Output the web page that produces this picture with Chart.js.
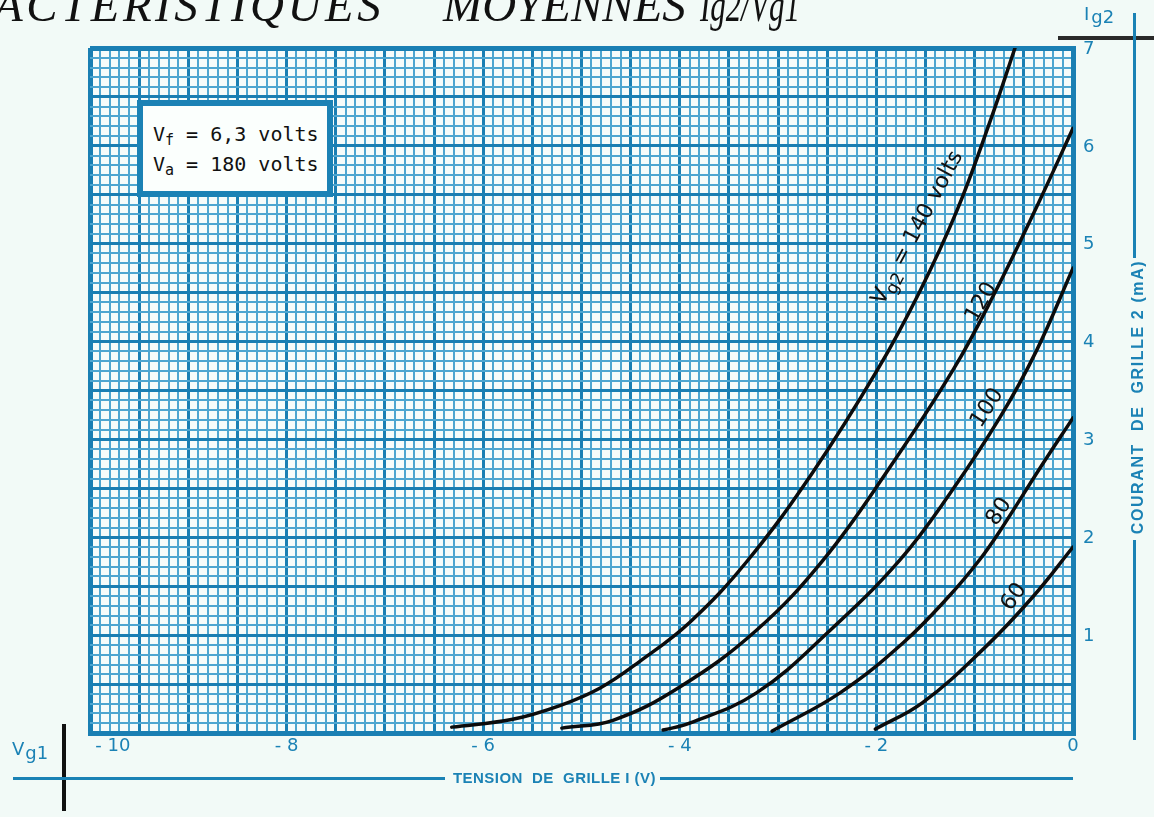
<!DOCTYPE html>
<html>
<head>
<meta charset="utf-8">
<script src="https://cdn.jsdelivr.net/npm/chart.js@4/dist/chart.umd.min.js"></script>
<style>
  html, body { margin: 0; padding: 0; background: #f2faf7; }
  #wrap { position: relative; width: 1154px; height: 817px; overflow: hidden; }
  #chartBox { position: absolute; left: 0; top: 0; width: 1154px; height: 817px; }
  .abs { position: absolute; }
  .blue { color: #1b82b5; }
  .title { top: -22px; font: italic 47px "Liberation Serif", serif; color: #111; white-space: nowrap; transform-origin: left top; }
  .cap { font: bold 15px "Liberation Sans", sans-serif; color: #1b82b5; white-space: nowrap; }
  .rule { background: #1b82b5; }
  .info { left: 137px; top: 100px; width: 184px; height: 85px; border: 6px solid #1b82b5; background: #fbfffd;
          font: 20px "DejaVu Sans Mono", monospace; color: #111; }
  .info div { position: absolute; left: 10px; white-space: pre; }
  sub { font-size: 75%; vertical-align: -4px; line-height: 0; }
</style>
</head>
<body>
<div id="wrap">
  <div id="chartBox"><canvas id="c"></canvas></div>

  <div class="abs title" style="left:-6px; letter-spacing:3.5px;">ACTERISTIQUES</div>
  <div class="abs title" style="left:443px;">MOYENNES</div>
  <div class="abs title" style="left:700px; transform: scaleX(0.66);">Ig2/Vg1</div>

  <div class="abs info">
    <div style="top:16px">V<sub>f</sub> = 6,3 volts</div>
    <div style="top:46px">V<sub>a</sub> = 180 volts</div>
  </div>

  <!-- right side: Ig2 / courant de grille 2 -->
  <div class="abs blue" style="left:1084px; top:3px; font:18px 'DejaVu Sans', sans-serif;">I<span style="position:relative; top:3px; margin-left:2px">g2</span></div>
  <div class="abs" style="left:1058px; top:36px; width:96px; height:4px; background:#2a2a2a;"></div>
  <div class="abs rule" style="left:1133px; top:13px; width:3px; height:245px;"></div>
  <div class="abs cap" style="left:1138px; top:397px; transform: translate(-50%,-50%) rotate(-90deg); letter-spacing:1.6px; font-size:16px;">COURANT&nbsp; DE&nbsp; GRILLE 2 (mA)</div>
  <div class="abs rule" style="left:1133px; top:540px; width:3px; height:200px;"></div>

  <!-- bottom: Vg1 / tension de grille 1 -->
  <div class="abs blue" style="left:12px; top:738px; font:18px 'DejaVu Sans', sans-serif;">V<span style="position:relative; top:4px; margin-left:1px">g1</span></div>
  <div class="abs" style="left:62px; top:724px; width:4px; height:87px; background:#111;"></div>
  <div class="abs rule" style="left:13px; top:777px; width:432px; height:3px;"></div>
  <div class="abs cap" style="left:453px; top:769px; letter-spacing:0.45px;">TENSION&nbsp; DE&nbsp; GRILLE I (V)</div>
  <div class="abs rule" style="left:660px; top:777px; width:413px; height:3px;"></div>
</div>

<script>
// grille 1 voltage (V) and screen-grid current (mA)
const vg1_140 = [-6.32, -5.70, -5.22, -4.81, -4.41, -3.90, -3.32, -2.65, -1.99, -1.56, -1.18, -0.84, -0.59];
const ig2_140 = [0.06, 0.14, 0.28, 0.46, 0.73, 1.13, 1.75, 2.66, 3.71, 4.51, 5.34, 6.26, 7.00];

const vg1_120 = [-5.20, -4.68, -4.00, -3.22, -2.54, -1.88, -1.22, -0.81, -0.34, 0.00];
const ig2_120 = [0.05, 0.13, 0.47, 1.05, 1.77, 2.69, 3.71, 4.47, 5.44, 6.18];

const vg1_100 = [-4.17, -3.90, -3.22, -2.47, -1.76, -1.25, -0.74, -0.37, 0.00];
const ig2_100 = [0.03, 0.10, 0.41, 1.05, 1.77, 2.45, 3.23, 3.91, 4.75];

const vg1_80 = [-3.06, -2.37, -1.73, -1.25, -0.95, -0.74, -0.34, 0.00];
const ig2_80 = [0.02, 0.41, 0.92, 1.41, 1.77, 2.07, 2.70, 3.22];

const vg1_60 = [-2.01, -1.53, -0.90, -0.41, 0.00];
const ig2_60 = [0.04, 0.31, 0.87, 1.39, 1.90];

const xTickLabels = [-10, -8, -6, -4, -2, 0];
const yTickLabels = [1, 2, 3, 4, 5, 6, 7];

// curve captions, anchored in data units
const curveLabels = [
  { main: 'V', sub: 'g2', rest: ' = 140 volts', x: -1.58, y: 5.16, angle: -62 },
  { main: '120', x: -0.93, y: 4.40, angle: -60 },
  { main: '100', x: -0.87, y: 3.32, angle: -57 },
  { main: '80', x: -0.75, y: 2.26, angle: -56 },
  { main: '60', x: -0.60, y: 1.39, angle: -55 },
];

const GRID_MAJOR = '#1a7fb3';
const GRID_MINOR = '#4ea6d0';

const pts = (xs, ys) => xs.map((x, i) => ({ x, y: ys[i] }));
const curve = (xs, ys) => ({
  data: pts(xs, ys), borderColor: '#0c0c0c', borderWidth: 3.5, pointRadius: 0,
  fill: false, tension: 0.4, borderCapStyle: 'round',
});

// one tick every 0.1 unit, built as clean decimals
const tenthTicks = (lo, hi) => {
  const out = [];
  for (let t = lo * 10; t <= hi * 10; t++) out.push({ value: t / 10 });
  return out;
};

const bgPlugin = {
  id: 'bg',
  beforeDraw(chart) {
    const { ctx, chartArea: a } = chart;
    ctx.save();
    ctx.fillStyle = '#f2faf7';
    ctx.fillRect(0, 0, chart.width, chart.height);
    ctx.fillStyle = '#f6fcfa';
    ctx.fillRect(a.left, a.top, a.right - a.left, a.bottom - a.top);
    ctx.restore();
  }
};

const labelPlugin = {
  id: 'curveLabels',
  afterDatasetsDraw(chart) {
    const { ctx, scales: { x, y } } = chart;
    ctx.save();
    ctx.fillStyle = '#111';
    ctx.textBaseline = 'middle';
    const big = '22px "DejaVu Sans", sans-serif';
    const small = '17px "DejaVu Sans", sans-serif';
    curveLabels.forEach(l => {
      ctx.save();
      ctx.translate(x.getPixelForValue(l.x), y.getPixelForValue(l.y));
      ctx.rotate(l.angle * Math.PI / 180);
      ctx.font = big;
      const w = ctx.measureText(l.main).width;
      let ws = 0, wr = 0;
      if (l.sub) { ctx.font = small; ws = ctx.measureText(l.sub).width; ctx.font = big; wr = ctx.measureText(l.rest).width; }
      const cx = -(w + ws + wr) / 2;
      ctx.font = big;
      ctx.fillText(l.main, cx, 0);
      if (l.sub) {
        ctx.font = small; ctx.fillText(l.sub, cx + w, 7);
        ctx.font = big; ctx.fillText(l.rest, cx + w + ws, 0);
      }
      ctx.restore();
    });
    ctx.restore();
  }
};

const tenth = v => Math.round(v * 10);
const gridColor = c => (c.tick && tenth(c.tick.value) % 5 === 0) ? GRID_MAJOR : GRID_MINOR;
const gridWidth = edge => c => {
  if (!c.tick) return 2;
  const t = tenth(c.tick.value);
  return t === edge ? 5 : (t % 5 === 0 ? 3 : 2);
};
// the -10 label sits inside the frame on the original, hence the leading spaces
const xLabel = v => {
  if (!xTickLabels.includes(v)) return '';
  if (v === 0) return '0';
  return (v === -10 ? '        ' : '') + '- ' + Math.abs(v);
};

new Chart(document.getElementById('c'), {
  type: 'line',
  data: {
    datasets: [
      curve(vg1_140, ig2_140),
      curve(vg1_120, ig2_120),
      curve(vg1_100, ig2_100),
      curve(vg1_80, ig2_80),
      curve(vg1_60, ig2_60),
    ]
  },
  options: {
    responsive: true, maintainAspectRatio: false, animation: false,
    layout: { padding: { left: 90, top: 48, right: 0, bottom: 0 } },
    plugins: { legend: { display: false }, tooltip: { enabled: false } },
    scales: {
      x: {
        type: 'linear', min: -10, max: 0, position: 'bottom',
        afterBuildTicks: s => { s.ticks = tenthTicks(-10, 0); },
        afterFit: s => { s.height = 84; },
        ticks: {
          autoSkip: false, maxRotation: 0, padding: 3,
          color: '#1b82b5', font: { family: '"DejaVu Sans"', size: 18 },
          callback: xLabel
        },
        grid: { drawTicks: false, color: gridColor, lineWidth: gridWidth(-100) },
        border: { display: true, color: GRID_MAJOR, width: 5 }
      },
      y: {
        type: 'linear', min: 0, max: 7, position: 'right',
        afterBuildTicks: s => { s.ticks = tenthTicks(0, 7); },
        afterFit: s => { s.width = 81; },
        ticks: {
          autoSkip: false, padding: 10, labelOffset: 1,
          color: '#1b82b5', font: { family: '"DejaVu Sans"', size: 18 },
          callback: v => yTickLabels.includes(v) ? String(v) : ''
        },
        grid: { drawTicks: false, color: gridColor, lineWidth: gridWidth(70) },
        border: { display: true, color: GRID_MAJOR, width: 5 }
      }
    }
  },
  plugins: [bgPlugin, labelPlugin]
});
</script>
</body>
</html>
